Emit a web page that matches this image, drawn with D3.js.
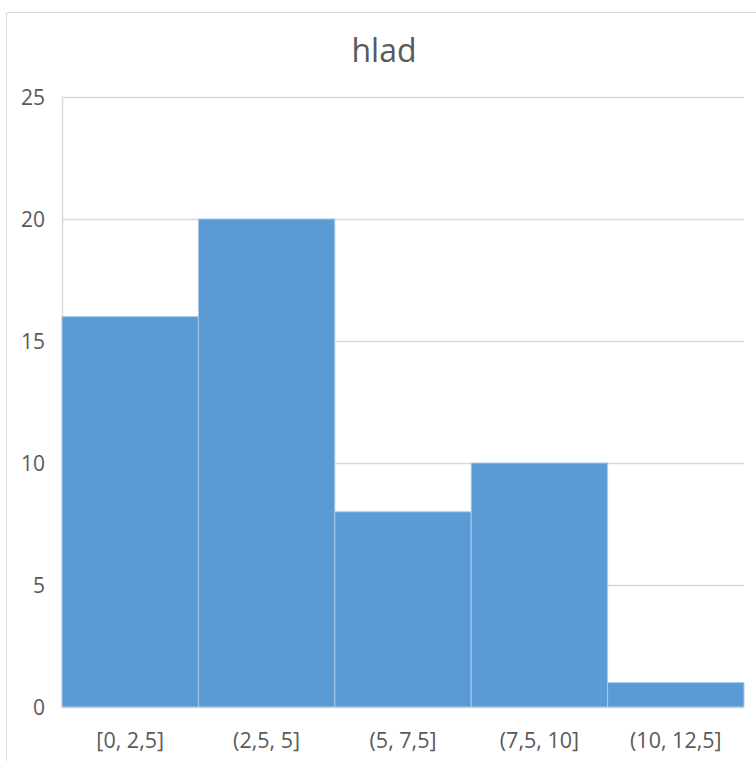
<!DOCTYPE html>
<html>
<head>
<meta charset="utf-8">
<script src="https://cdn.jsdelivr.net/npm/d3@7/dist/d3.min.js"></script>
<style>
  html, body { margin: 0; padding: 0; background: #fff; }
  svg { display: block; }
  text { font-family: "Open Sans", "Noto Sans", sans-serif; fill: #595959; }
</style>
</head>
<body>
<svg id="chart" width="756" height="761"></svg>
<script>
// Histogram bins and counts
const categories = ["[0, 2,5]", "(2,5, 5]", "(5, 7,5]", "(7,5, 10]", "(10, 12,5]"];
const counts = [16, 20, 8, 10, 1];
const yTicks = [0, 5, 10, 15, 20, 25];
const title = "hlad";

const svg = d3.select("#chart");
const W = 756, H = 761;
const margin = { left: 62, right: 12, top: 97, bottom: 54 };

// Outer chart frame (left and top edges visible)
svg.append("path")
  .attr("d", `M6.5,${H} V12.5 H${W}`)
  .attr("fill", "none")
  .attr("stroke", "#d9d9d9")
  .attr("stroke-width", 1);

const x = d3.scaleBand()
  .domain(categories)
  .range([margin.left, W - margin.right])
  .paddingInner(0)
  .paddingOuter(0);

const y = d3.scaleLinear()
  .domain([0, 25])
  .range([H - margin.bottom, margin.top]);

// Gridlines
svg.append("g")
  .selectAll("line")
  .data(yTicks)
  .join("line")
  .attr("x1", margin.left)
  .attr("x2", W - margin.right)
  .attr("y1", d => Math.round(y(d)) + 0.5)
  .attr("y2", d => Math.round(y(d)) + 0.5)
  .attr("stroke", "#d9d9d9")
  .attr("stroke-width", 1.5);

// Vertical axis line
svg.append("line")
  .attr("x1", margin.left + 0.5).attr("x2", margin.left + 0.5)
  .attr("y1", y(25)).attr("y2", y(0))
  .attr("stroke", "#d9d9d9")
  .attr("stroke-width", 1.5);

// Bars
svg.append("g")
  .selectAll("rect")
  .data(categories.map((c, i) => ({ c, v: counts[i] })))
  .join("rect")
  .attr("x", d => x(d.c))
  .attr("width", x.bandwidth())
  .attr("y", d => y(d.v))
  .attr("height", d => y(0) - y(d.v))
  .attr("fill", "#5b9bd5")
  .attr("stroke", "#a8c9ea")
  .attr("stroke-width", 1);

// Y tick labels
svg.append("g")
  .selectAll("text")
  .data(yTicks)
  .join("text")
  .attr("x", 45)
  .attr("y", d => y(d))
  .attr("dy", "0.36em")
  .attr("text-anchor", "end")
  .attr("font-size", 21)
  .text(d => d);

// X category labels
svg.append("g")
  .selectAll("text")
  .data(categories)
  .join("text")
  .attr("x", d => x(d) + x.bandwidth() / 2)
  .attr("y", 748)
  .attr("text-anchor", "middle")
  .attr("font-size", 21.5)
  .text(d => d);

// Title
svg.append("text")
  .attr("x", 384)
  .attr("y", 62)
  .attr("text-anchor", "middle")
  .attr("font-size", 32)
  .text(title);
</script>
</body>
</html>
